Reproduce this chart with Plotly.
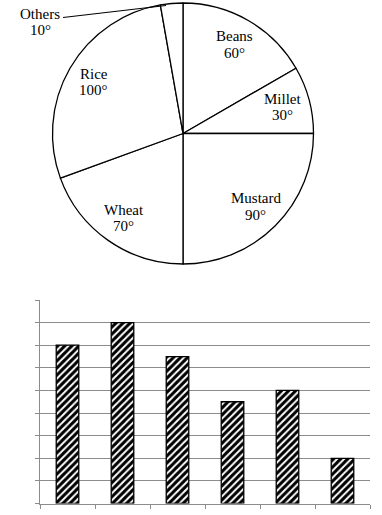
import math
import plotly.graph_objects as go

# ---- data ----
crops = ["Beans", "Millet", "Mustard", "Wheat", "Rice", "Others"]
degrees = [60, 30, 90, 70, 100, 10]

bar_categories = ["1", "2", "3", "4", "5", "6"]
bar_values = [7, 8, 6.5, 4.5, 5, 2]

W, H = 382, 515
FONT = "Liberation Serif"


def px(x):
    return x / W


def py(y):
    return 1 - y / H


fig = go.Figure()

# ---- pie ----
cx, cy, R = 183, 133.5, 130.5
fig.add_trace(go.Pie(
    labels=crops, values=degrees, sort=False, direction="clockwise", rotation=0,
    marker=dict(colors=["white"] * len(crops), line=dict(color="black", width=1.3)),
    textinfo="none", hoverinfo="none", showlegend=False,
    domain=dict(x=[px(cx - R), px(cx + R)], y=[py(cy + R), py(cy - R)]),
))

annotations = []
cum = 0
for name, deg in zip(crops, degrees):
    mid = cum + deg / 2
    cum += deg
    if name == "Others":
        lx, ly = 40, 22
    else:
        a = math.radians(mid)
        lx = cx + 0.79 * R * math.sin(a)
        ly = cy - 0.79 * R * math.cos(a)
    for text, dy in ((name, -8.3), (f"{deg}°", 8.3)):
        annotations.append(dict(
            x=px(lx), y=py(ly + dy), xref="paper", yref="paper", text=text,
            showarrow=False, xanchor="center", yanchor="middle",
            font=dict(family=FONT, size=15, color="black"),
        ))

shapes = [dict(type="line", xref="paper", yref="paper",
               x0=px(63), y0=py(17.5), x1=px(166), y1=py(5.5),
               line=dict(color="black", width=1.2))]

# ---- bar chart ----
fig.add_trace(go.Bar(
    x=bar_categories, y=bar_values, width=0.41,
    marker=dict(color="white", line=dict(color="black", width=1.3),
                pattern=dict(shape="/", fgcolor="black", bgcolor="white",
                             fgopacity=1, size=5, solidity=0.6)),
    hoverinfo="none", showlegend=False, xaxis="x", yaxis="y",
))

fig.update_layout(
    width=W, height=H, margin=dict(l=0, r=0, t=0, b=0),
    paper_bgcolor="white", plot_bgcolor="white",
    annotations=annotations, shapes=shapes,
    xaxis=dict(domain=[px(40), px(370)], anchor="y", type="category",
               showticklabels=False, ticks="outside", tickson="boundaries",
               ticklen=4, tickcolor="#8c8c8c", showline=True, linecolor="#8c8c8c",
               linewidth=1.2, showgrid=False, zeroline=False, fixedrange=True),
    yaxis=dict(domain=[py(503.5), py(300)], anchor="x", range=[0, 9], dtick=1,
               showticklabels=False, ticks="outside", ticklen=4, tickcolor="#8c8c8c",
               showline=True, linecolor="#8c8c8c", linewidth=1.2,
               showgrid=True, gridcolor="#8c8c8c", gridwidth=1.2,
               zeroline=False, fixedrange=True),
)

fig.write_html("out.html")
